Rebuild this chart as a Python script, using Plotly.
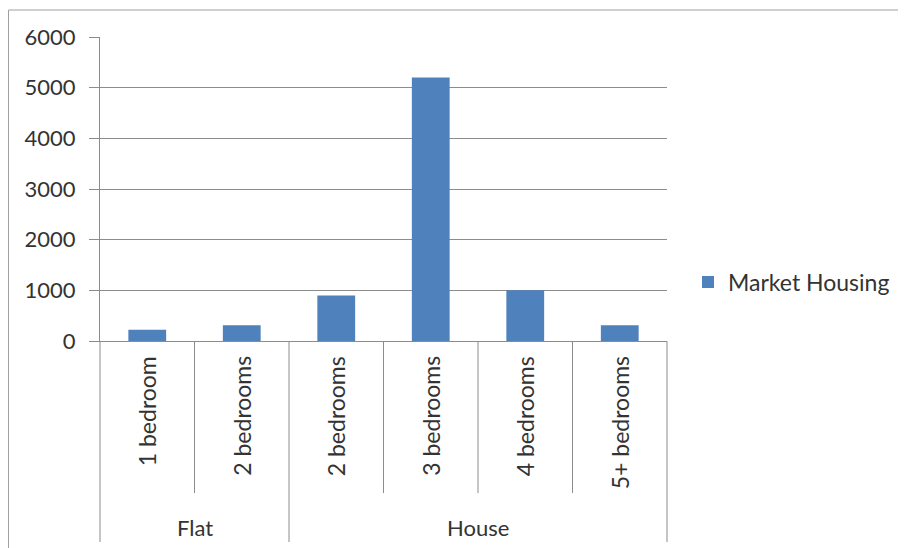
import plotly.graph_objects as go

# ---- data ----
groups = ["Flat", "Flat", "House", "House", "House", "House"]
rooms = ["1 bedroom", "2 bedrooms", "2 bedrooms", "3 bedrooms", "4 bedrooms", "5+ bedrooms"]
market_housing = [220, 310, 900, 5200, 1000, 310]
series_name = "Market Housing"
y_ticks = [0, 1000, 2000, 3000, 4000, 5000, 6000]

FONT = "Lato"
TXT = "#333333"
GRID = "#8c8c8c"
BAR = "#4F81BD"

n = len(rooms)
pos = list(range(n))

# page body adds an 8px offset; reference pixel coords are shifted by OFF
OFF = 8
W, H = 906 - OFF, 548 - OFF
plot_left, plot_right, plot_top, plot_bottom = 100, 667, 37, 341  # reference px
ml, mt = plot_left - OFF, plot_top - OFF
mr = W - (plot_right - OFF)
mb = H - (plot_bottom - OFF)
ph = plot_bottom - plot_top
pw = plot_right - plot_left


def yp(py):
    return (plot_bottom - py) / ph


def xp(px):
    return (px - plot_left) / pw


fig = go.Figure()
fig.add_trace(go.Bar(x=pos, y=market_housing, name=series_name,
                     marker=dict(color=BAR, line=dict(width=0)),
                     width=0.4, showlegend=True))

shapes = []
for i in range(1, n + 1):
    xpos = i / n
    is_group_edge = (i == n or groups[i - 1] != groups[i])
    y_end = yp(542) if is_group_edge else yp(493)
    shapes.append(dict(type="line", xref="paper", yref="paper",
                       x0=xpos, x1=xpos, y0=0, y1=y_end,
                       line=dict(color=GRID, width=1)))
shapes.append(dict(type="line", xref="paper", yref="paper",
                   x0=0, x1=0, y0=0, y1=yp(542),
                   line=dict(color=GRID, width=1)))
# outer chart border
shapes.append(dict(type="rect", xref="paper", yref="paper",
                   x0=xp(8.5), x1=xp(930), y0=yp(570), y1=yp(10),
                   line=dict(color="#a0a0a0", width=1), fillcolor="rgba(0,0,0,0)"))

annotations = []
for i, r in enumerate(rooms):
    annotations.append(dict(x=i, xref="x", y=yp(354), yref="paper",
                            text=r, textangle=-90, showarrow=False,
                            xanchor="center", yanchor="top",
                            font=dict(family=FONT, size=23, color=TXT)))
uniq = []
for i, g in enumerate(groups):
    if not uniq or uniq[-1][0] != g:
        uniq.append([g, i, i])
    else:
        uniq[-1][2] = i
for g, a, b in uniq:
    annotations.append(dict(x=(a + b) / 2, xref="x", y=yp(527), yref="paper",
                            text=g, showarrow=False, xanchor="center", yanchor="middle",
                            font=dict(family=FONT, size=22, color=TXT)))

fig.update_layout(
    width=W, height=H,
    margin=dict(l=ml, r=mr, t=mt, b=mb, autoexpand=False),
    paper_bgcolor="white", plot_bgcolor="white",
    font=dict(family=FONT, size=22, color=TXT),
    xaxis=dict(range=[-0.5, n - 0.5], showticklabels=False, showgrid=False,
               showline=True, linecolor=GRID, linewidth=1, ticks="", zeroline=False,
               fixedrange=True),
    yaxis=dict(range=[0, 6000], tickvals=y_ticks, showgrid=True, gridcolor=GRID,
               gridwidth=1, showline=True, linecolor=GRID, linewidth=1,
               ticks="outside", ticklen=10, tickcolor=GRID, zeroline=False,
               ticklabelstandoff=9,
               tickfont=dict(family=FONT, size=22, color=TXT)),
    legend=dict(x=xp(688), y=yp(282), xanchor="left", yanchor="middle",
                font=dict(family=FONT, size=23, color=TXT), bgcolor="rgba(0,0,0,0)"),
    shapes=shapes, annotations=annotations, bargap=0.6,
)

fig.write_html("out.html")
